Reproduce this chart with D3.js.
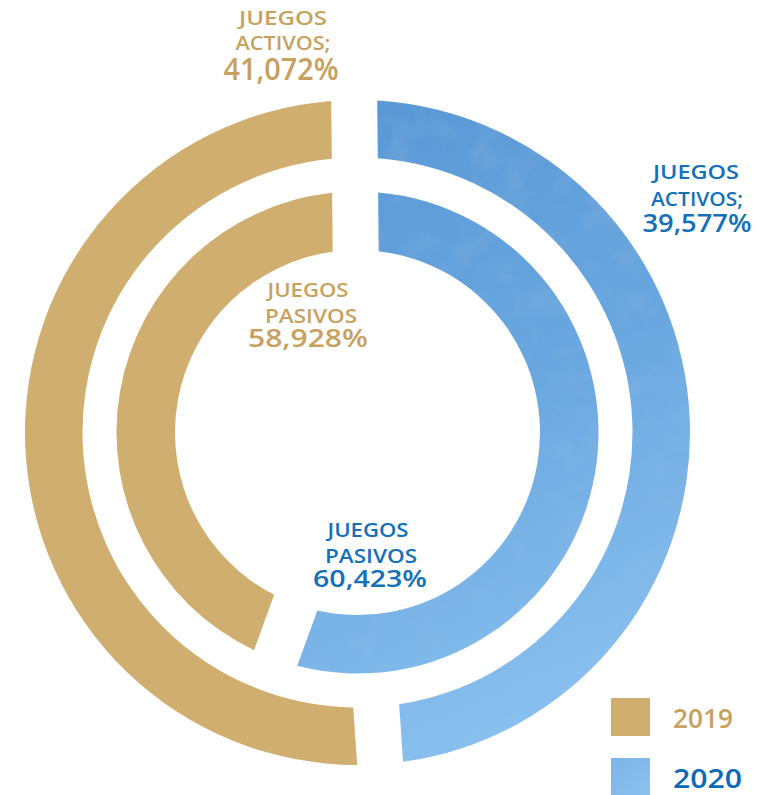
<!DOCTYPE html>
<html>
<head>
<meta charset="utf-8">
<script src="https://cdn.jsdelivr.net/npm/d3@7"></script>
<style>
  html, body { margin: 0; padding: 0; background: #ffffff; }
  svg { display: block; }
  text { font-family: "Open Sans", "DejaVu Sans", sans-serif; font-weight: 600; }
</style>
</head>
<body>
<svg id="chart" width="769" height="795"></svg>
<script>
// ---------- data ----------
const years = ["2019", "2020"];
const categories = ["JUEGOS ACTIVOS", "JUEGOS PASIVOS"];
const activos = [41.072, 39.577];          // % juegos activos, per year
const pasivos = [58.928, 60.423];          // % juegos pasivos, per year
const pasivosRingShare = [44.3, 55.7];     // share of the inner ring as drawn, per year

const colors = { "2019": "#cfae6f", "2020": "#72abe2" };
const textColors = { "2019": "#c6a160", "2020": "#1470b8" };

const svg = d3.select("#chart");
const cx = 357.5, cy = 432.5;

// ---------- defs: gradient + mottled texture for 2020 ----------
const defs = svg.append("defs");
// coordinates relative to the ring centre (paths live in a translated group)
const grad = defs.append("linearGradient")
  .attr("id", "blueGrad").attr("gradientUnits", "userSpaceOnUse")
  .attr("x1", 20).attr("y1", -320).attr("x2", 290).attr("y2", 300);
grad.append("stop").attr("offset", "0").attr("stop-color", "#5a99d6");
grad.append("stop").attr("offset", "0.45").attr("stop-color", "#6aa7e0");
grad.append("stop").attr("offset", "1").attr("stop-color", "#8ec4f1");

const legGrad = defs.append("linearGradient")
  .attr("id", "legGrad").attr("x1", 0).attr("y1", 0).attr("x2", 1).attr("y2", 1);
legGrad.append("stop").attr("offset", "0").attr("stop-color", "#7bb4e8");
legGrad.append("stop").attr("offset", "1").attr("stop-color", "#8cc1ef");

const f = defs.append("filter").attr("id", "mottle")
  .attr("x", "0").attr("y", "0").attr("width", "1").attr("height", "1");
f.append("feTurbulence").attr("type", "fractalNoise").attr("baseFrequency", "0.035")
  .attr("numOctaves", 3).attr("seed", 7).attr("result", "noise");
f.append("feColorMatrix").attr("in", "noise").attr("type", "matrix")
  .attr("values", "0 0 0 0 0.30  0 0 0 0 0.52  0 0 0 0 0.78  0.45 0 0 0 -0.20")
  .attr("result", "spots");
f.append("feComposite").attr("in", "spots").attr("in2", "SourceGraphic")
  .attr("operator", "in").attr("result", "clipSpots");
const fm = f.append("feMerge");
fm.append("feMergeNode").attr("in", "SourceGraphic");
fm.append("feMergeNode").attr("in", "clipSpots");

// ---------- rings ----------
const pie = d3.pie().sort(null).value(d => d.v).startAngle(-0.01).endAngle(2 * Math.PI - 0.01);
const gap = 46;
const padR = 900;
const padA = 2 * Math.asin(gap / 2 / padR);

const rings = [
  { values: activos, r0: 275, r1: 332.5 },
  { values: pasivosRingShare, r0: 182.5, r1: 241 }
];

const g = svg.append("g").attr("transform", `translate(${cx},${cy})`);

rings.forEach(ring => {
  // 2020 first (clockwise from top), then 2019
  const d = [1, 0].map(i => ({ year: years[i], v: ring.values[i] }));
  const arc = d3.arc().innerRadius(ring.r0).outerRadius(ring.r1)
    .padAngle(padA).padRadius(padR);
  g.selectAll(null).data(pie(d)).enter().append("path")
    .attr("d", arc)
    .attr("fill", p => p.data.year === "2020" ? "url(#blueGrad)" : colors["2019"])
    .attr("filter", p => p.data.year === "2020" ? "url(#mottle)" : null);
});

// ---------- labels ----------
const fmt = v => v.toFixed(3).replace(".", ",") + "%";

function label(x, lines, color) {
  lines.forEach(l => {
    svg.append("text")
      .attr("x", l.dx !== undefined ? x + l.dx : x)
      .attr("y", l.y)
      .attr("text-anchor", "middle")
      .attr("font-size", l.size)
      .attr("textLength", l.w)
      .attr("lengthAdjust", "spacingAndGlyphs")
      .attr("fill", color)
      .text(l.t);
  });
}

// 2019 activos (top, tan)
label(283, [
  { t: "JUEGOS", y: 25, size: 20, w: 88 },
  { t: "ACTIVOS;", y: 50, size: 20, w: 95 },
  { t: fmt(activos[0]), y: 80, size: 30.5, w: 115, dx: -2 }
], textColors["2019"]);

// 2020 activos (right, blue)
label(697, [
  { t: "JUEGOS", y: 179, size: 19.5, w: 86, dx: -1 },
  { t: "ACTIVOS;", y: 206, size: 19.5, w: 92 },
  { t: fmt(activos[1]), y: 232, size: 24.5, w: 109 }
], textColors["2020"]);

// 2019 pasivos (inner, tan)
label(308, [
  { t: "JUEGOS", y: 297, size: 19.5, w: 81 },
  { t: "PASIVOS", y: 323, size: 19.5, w: 92, dx: 3 },
  { t: fmt(pasivos[0]), y: 347, size: 24.5, w: 120 }
], textColors["2019"]);

// 2020 pasivos (inner, blue)
label(368, [
  { t: "JUEGOS", y: 537, size: 19.5, w: 81 },
  { t: "PASIVOS", y: 563, size: 19.5, w: 92, dx: 3 },
  { t: fmt(pasivos[1]), y: 587, size: 24, w: 114, dx: 2 }
], textColors["2020"]);

// ---------- legend ----------
const leg = svg.append("g");
years.forEach((y, i) => {
  const top = 698 + i * 60;
  leg.append("rect").attr("x", 611).attr("y", top).attr("width", 39).attr("height", 38)
    .attr("fill", y === "2020" ? "url(#legGrad)" : colors[y])
    .attr("filter", y === "2020" ? "url(#mottle)" : null);
  leg.append("text").attr("x", 673).attr("y", top + 30)
    .attr("font-size", 27).attr("font-weight", 700)
    .attr("textLength", y === "2019" ? 60 : 69).attr("lengthAdjust", "spacingAndGlyphs")
    .attr("fill", y === "2020" ? "#0a6ab4" : textColors[y]).text(y);
});
</script>
</body>
</html>
